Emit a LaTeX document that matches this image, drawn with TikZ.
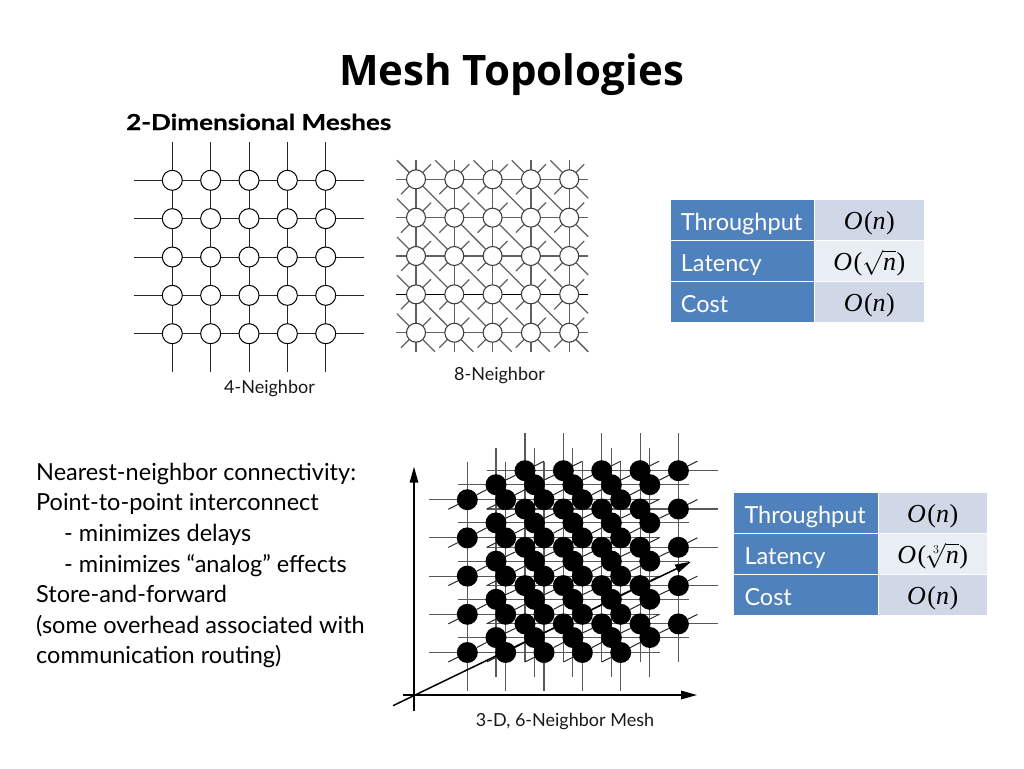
\documentclass[tikz,border=0pt]{standalone}
\usepackage{fontspec}
\usepackage{amsmath}
\setmainfont{Lato}
\newfontfamily\titlefont{Open Sans}
\newfontfamily\subfont{Lato}[FakeStretch=1.185,BoldFeatures={FakeBold=0.6}]
\newfontfamily\mathish{Liberation Serif}
\usetikzlibrary{arrows.meta}
\pgfdeclarelayer{bg}
\pgfsetlayers{bg,main}
\definecolor{tblue}{HTML}{4F81BD}
\definecolor{tdark}{HTML}{D0D8E8}
\definecolor{tlight}{HTML}{E9EDF4}
\newcommand{\mO}{{\mathish\itshape O}}
\newcommand{\mN}{{\mathish\itshape n}}
\newcommand{\mP}[1]{{\mathish\kern1.5pt(}#1{\mathish\kern0.5pt)}}
\tikzset{
  openN/.style={circle,draw=black,fill=white,line width=1pt,minimum size=20pt,inner sep=0pt},
  openE/.style={circle,draw=black!75,fill=white,line width=1.1pt,minimum size=19pt,inner sep=0pt},
  solidN/.style={circle,fill=black,minimum size=21pt,inner sep=0pt},
  wireA/.style={line width=1pt,black!85},
  wireB/.style={line width=1.25pt,black!62},
  wireD/.style={line width=0.9pt,black},
  wireC/.style={line width=1.1pt,black!65},
  axisL/.style={line width=1.5pt,black,-{Triangle[length=16pt,width=8.5pt]}},
  lab/.style={font=\fontsize{18}{18}\selectfont,text=black!90,inner sep=0pt,anchor=base},
  body/.style={font=\fontsize{23.5}{23.5}\selectfont,anchor=base west,inner sep=0pt},
}
\newcommand{\tblrow}[7]{%
  \path[fill=tblue] (#1,#3) rectangle (#2,#4);
  \path[fill=#6] (#2+1,#3) rectangle (#2+109.5,#4);
  \node[text=white,font=\fontsize{23.5}{23.5}\selectfont,anchor=base west,inner sep=0pt] at (#1+10,#3+30.3) {#5};
  \node[font=\fontsize{26}{26}\selectfont,anchor=base,inner sep=0pt] at (#2+55,#3+29.5) {#7};
}
\begin{document}
\begin{tikzpicture}[x=1pt,y=-1pt]
\useasboundingbox (0,0) rectangle (1024,768);
% title
\node[font=\titlefont\bfseries\fontsize{42}{42}\selectfont,inner sep=0pt,anchor=base] (title) at (511.5,85) {Mesh Topologies};
\node[font=\subfont\bfseries\fontsize{22}{22}\selectfont,anchor=base west,inner sep=0pt] (sub) at (126,130) {2-Dimensional Meshes};
% 4-neighbour
\foreach \r in {0,...,4}{\foreach \c in {0,...,4}{
  \node[openN] (a\r\c) at ({172.3+38.35*\c},{180.3+38.35*\r}) {};
}}
\foreach \i in {0,...,4}{
  \coordinate (aW\i) at (134,{180.3+38.35*\i});
  \coordinate (aE\i) at (364,{180.3+38.35*\i});
  \coordinate (aN\i) at ({172.3+38.35*\i},141.7);
  \coordinate (aS\i) at ({172.3+38.35*\i},371.7);
}
\begin{pgfonlayer}{bg}
\foreach \i in {0,...,4}{
  \draw[wireA] (aW\i) -- (aE\i);
  \draw[wireA] (aN\i) -- (aS\i);
}
\end{pgfonlayer}
\node[lab] (l4) at (269.5,393) {4-Neighbor};
% 8-neighbour
\foreach \r in {0,...,4}{\foreach \c in {0,...,4}{
  \node[openE] (b\r\c) at ({416+38.3*\c},{179.3+38.35*\r}) {};
  \coordinate (bNE\r\c) at ({416+38.3*\c+15},{179.3+38.35*\r-15});
  \coordinate (bSW\r\c) at ({416+38.3*\c-15},{179.3+38.35*\r+15});
}}
\foreach \i in {0,...,4}{
  \coordinate (bW\i) at (396,{179.3+38.35*\i});
  \coordinate (bE\i) at (588.3,{179.3+38.35*\i});
  \coordinate (bN\i) at ({416+38.3*\i},160);
  \coordinate (bS\i) at ({416+38.3*\i},351.7);
  \coordinate (bTL\i) at ({416+38.3*\i-19},{179.3-19});
  \coordinate (bLT\i) at ({416-19},{179.3+38.35*\i-19});
  \coordinate (bBR\i) at ({416+38.3*\i+19},{332.7+19});
  \coordinate (bRB\i) at ({569.2+19},{179.3+38.35*\i+19});
}
\begin{pgfonlayer}{bg}
\foreach \i in {0,1,2,4}{
  \draw[wireB] (bW\i) -- (bE\i);
}
\draw[wireD] (bW3) -- (bE3);
\foreach \i in {0,...,4}{
  \draw[wireB] (bN\i) -- (bS\i);
  \draw[wireB] (bTL\i) -- (b0\i);
  \draw[wireB] (bLT\i) -- (b\i0);
  \draw[wireB] (b4\i) -- (bBR\i);
  \draw[wireB] (b\i4) -- (bRB\i);
}
\foreach \r in {0,...,4}{\foreach \c in {0,...,4}{
  \draw[wireB] (bSW\r\c) -- (bNE\r\c);
}}
\foreach \r/\rr in {0/1,1/2,2/3,3/4}{\foreach \c/\cc in {0/1,1/2,2/3,3/4}{
  \draw[wireB] (b\r\c) -- (b\rr\cc);
}}
\end{pgfonlayer}
\node[lab] (l8) at (499.5,380) {8-Neighbor};
% tables
\tblrow{670.7}{814.3}{200}{240}{Throughput}{tdark}{\mO\mP{\mN}}
\tblrow{670.7}{814.3}{241}{281}{Latency}{tlight}{\mO\mP{\smash{$\sqrt{\hbox{\mN}}$}}}
\tblrow{670.7}{814.3}{282}{322.3}{Cost}{tdark}{\mO\mP{\mN}}
\tblrow{734.3}{877.7}{493}{532.5}{Throughput}{tdark}{\mO\mP{\mN}}
\tblrow{734.3}{877.7}{533.7}{574}{Latency}{tlight}{\mO\mP{\smash{$\sqrt[3]{\hbox{\mN}}$}}}
\tblrow{734.3}{877.7}{575}{615}{Cost}{tdark}{\mO\mP{\mN}}
% text
\node[body] (t1) at (36,480.3) {Nearest-neighbor connectivity:};
\node[body] (t2) at (36,510.3) {Point-to-point interconnect};
\node[body] (t3) at (36,541.8) {\hspace{28pt}- minimizes delays};
\node[body] (t4) at (36,572.5) {\hspace{28pt}- minimizes “analog” effects};
\node[body] (t5) at (36,602.5) {Store-and-forward};
\node[body] (t6) at (36,633.5) {(some overhead associated with};
\node[body] (t7) at (36,663.5) {communication routing)};
% 3-D mesh
\foreach \r in {0,...,4}{\foreach \c in {0,...,4}{
  \node[solidN] (f\r\c) at ({467.3+38.35*\c},{499.7+38.2*\r}) {};
  \node[solidN] (m\r\c) at ({496+38.45*\c},{484.7+38.2*\r}) {};
  \node[solidN] (k\r\c) at ({525+38.35*\c},{470.7+38.3*\r}) {};
  \coordinate (dA\r\c) at ({467.3+38.35*\c-19},{499.7+38.2*\r+9.5});
  \coordinate (dB\r\c) at ({525+38.35*\c+19},{470.7+38.3*\r-9.5});
}}
\foreach \i in {0,...,4}{
  \coordinate (fW\i) at (429,{499.7+38.2*\i});
  \coordinate (fE\i) at (660,{499.7+38.2*\i});
  \coordinate (mW\i) at (457.7,{484.7+38.2*\i});
  \coordinate (mE\i) at (689,{484.7+38.2*\i});
  \coordinate (kW\i) at (486.7,{470.7+38.3*\i});
  \coordinate (kE\i) at (717.7,{470.7+38.3*\i});
  \coordinate (fN\i) at ({467.3+38.35*\i},461.7);
  \coordinate (fS\i) at ({467.3+38.35*\i},691);
  \coordinate (mN\i) at ({496+38.45*\i},447.7);
  \coordinate (mS\i) at ({496+38.45*\i},677);
  \coordinate (kN\i) at ({525+38.35*\i},433.3);
  \coordinate (kS\i) at ({525+38.35*\i},662.3);
}
\coordinate (oX) at (403,695);
\coordinate (tX) at (697,695);
\coordinate (oY) at (414,711);
\coordinate (tY) at (414,466.7);
\coordinate (oZ) at (393,705.7);
\coordinate (tZ) at (691,561.7);
\begin{pgfonlayer}{bg}
\foreach \i in {0,...,4}{
  \draw[wireC] (fW\i) -- (fE\i);
  \draw[wireC] (mW\i) -- (mE\i);
  \draw[wireC] (kW\i) -- (kE\i);
  \draw[wireC] (fN\i) -- (fS\i);
  \draw[wireC] (mN\i) -- (mS\i);
  \draw[wireC] (kN\i) -- (kS\i);
}
\foreach \r in {0,...,4}{\foreach \c in {0,...,4}{
  \draw[wireA] (dA\r\c) -- (f\r\c);
  \draw[wireA] (f\r\c) -- (m\r\c);
  \draw[wireA] (m\r\c) -- (k\r\c);
  \draw[wireA] (k\r\c) -- (dB\r\c);
}}
\draw[axisL] (oZ) -- (tZ);
\end{pgfonlayer}
\draw[axisL] (oX) -- (tX);
\draw[axisL] (oY) -- (tY);
\node[lab] (l3) at (565,726.7) {3-D, 6-Neighbor Mesh};
\end{tikzpicture}
\end{document}
